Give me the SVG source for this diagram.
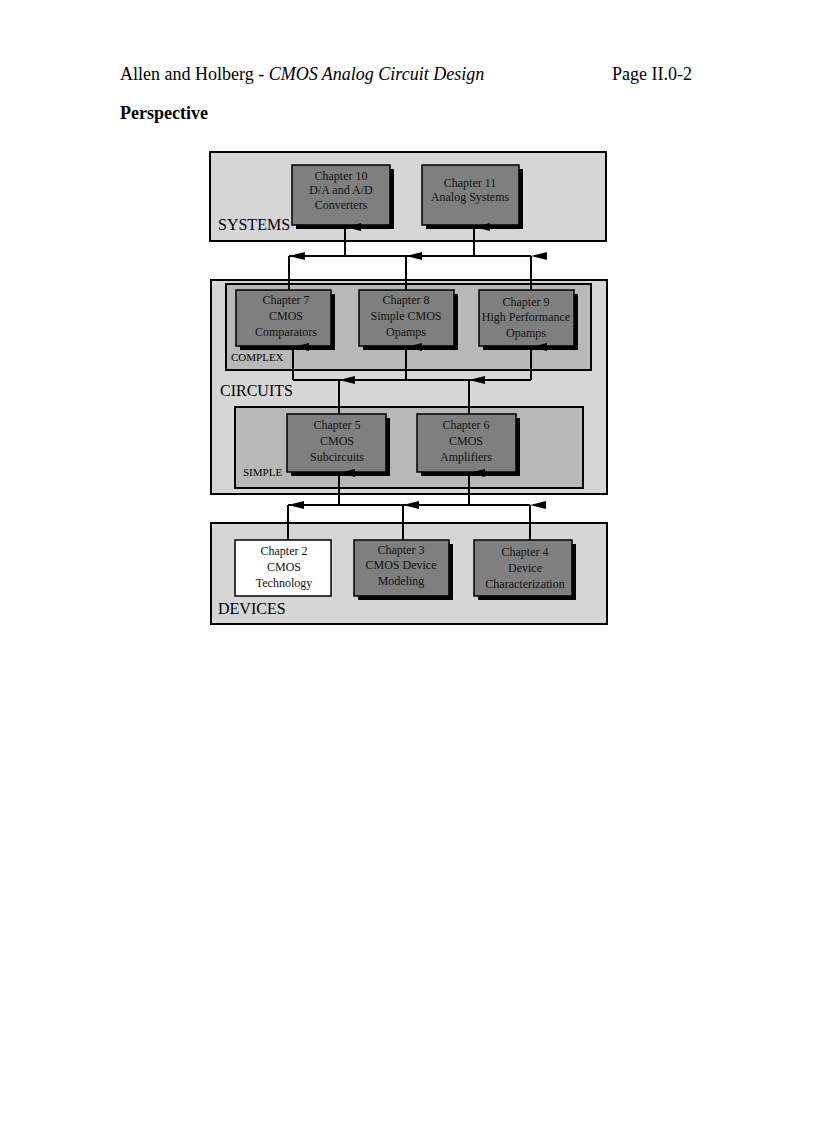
<svg xmlns="http://www.w3.org/2000/svg" width="816" height="1123" viewBox="0 0 816 1123">
<defs>
<marker id="ah" viewBox="0 0 8 16" refX="4" refY="0" markerWidth="8" markerHeight="16" markerUnits="userSpaceOnUse" orient="auto-start-reverse"><path d="M0,16 L4,0 L8,16 Z" fill="#000"/></marker>
</defs>
<style>
.hd{font-family:"Liberation Serif",serif;font-size:18px;fill:#000}
.outer{fill:#d6d6d6;stroke:#000;stroke-width:2}
.inner{fill:#b8b8b8;stroke:#000;stroke-width:2}
.ch{fill:#7f7f7f;stroke:#000;stroke-width:1.5}
.sh{fill:#000}
.t{font-family:"Liberation Serif",serif;font-size:12px;fill:#111;text-anchor:middle}
.lb{font-family:"Liberation Serif",serif;font-size:16px;fill:#000}
.sl{font-family:"Liberation Serif",serif;font-size:11px;fill:#000}
.c{fill:none;stroke:#000;stroke-width:2}
</style>
<text class="hd" x="120" y="80">Allen and Holberg - <tspan font-style="italic">CMOS Analog Circuit Design</tspan></text>
<text class="hd" x="612" y="80">Page II.0-2</text>
<text class="hd" x="120" y="119" font-weight="bold" font-size="19">Perspective</text>

<g id="systems"><rect class="outer" x="210" y="152" width="396" height="89"/><text class="lb" x="218" y="230">SYSTEMS</text></g>
<g id="circuits"><rect class="outer" x="211" y="280" width="396" height="214"/><text class="lb" x="220" y="396">CIRCUITS</text></g>
<g id="complex"><rect class="inner" x="226" y="284" width="365" height="86"/><text class="sl" x="231" y="361">COMPLEX</text></g>
<g id="simple"><rect class="inner" x="235" y="407" width="348" height="81"/><text class="sl" x="243" y="476">SIMPLE</text></g>
<g id="devices"><rect class="outer" x="211" y="523" width="396" height="101"/><text class="lb" x="218" y="614">DEVICES</text></g>

<g id="ch10"><rect class="sh" x="296" y="169" width="98" height="60"/><rect class="ch" x="292" y="165" width="98" height="60"/><text class="t" x="341" y="180">Chapter 10</text><text class="t" x="341" y="194">D/A and A/D</text><text class="t" x="341" y="209">Converters</text></g>
<g id="ch11"><rect class="sh" x="426" y="169" width="97" height="60"/><rect class="ch" x="422" y="165" width="97" height="60"/><text class="t" x="470" y="187">Chapter 11</text><text class="t" x="470" y="201">Analog Systems</text></g>

<g id="ch7"><rect class="sh" x="240" y="294" width="95" height="56"/><rect class="ch" x="236" y="290" width="95" height="56"/><text class="t" x="286" y="304">Chapter 7</text><text class="t" x="286" y="320">CMOS</text><text class="t" x="286" y="336">Comparators</text></g>
<g id="ch8"><rect class="sh" x="363" y="294" width="95" height="56"/><rect class="ch" x="359" y="290" width="95" height="56"/><text class="t" x="406" y="304">Chapter 8</text><text class="t" x="406" y="320">Simple CMOS</text><text class="t" x="406" y="336">Opamps</text></g>
<g id="ch9"><rect class="sh" x="483" y="294" width="95" height="56"/><rect class="ch" x="479" y="290" width="95" height="56"/><text class="t" x="526" y="306">Chapter 9</text><text class="t" x="526" y="321">High Performance</text><text class="t" x="526" y="337">Opamps</text></g>

<g id="ch5"><rect class="sh" x="291" y="418" width="99" height="58"/><rect class="ch" x="287" y="414" width="99" height="58"/><text class="t" x="337" y="429">Chapter 5</text><text class="t" x="337" y="445">CMOS</text><text class="t" x="337" y="461">Subcircuits</text></g>
<g id="ch6"><rect class="sh" x="421" y="418" width="99" height="58"/><rect class="ch" x="417" y="414" width="99" height="58"/><text class="t" x="466" y="429">Chapter 6</text><text class="t" x="466" y="445">CMOS</text><text class="t" x="466" y="461">Amplifiers</text></g>

<g id="ch2"><rect x="235" y="540" width="96" height="56" fill="#fff" stroke="#000" stroke-width="1.5"/><text class="t" x="284" y="555">Chapter 2</text><text class="t" x="284" y="571">CMOS</text><text class="t" x="284" y="587">Technology</text></g>
<g id="ch3"><rect class="sh" x="358" y="544" width="95" height="56"/><rect class="ch" x="354" y="540" width="95" height="56"/><text class="t" x="401" y="554">Chapter 3</text><text class="t" x="401" y="569">CMOS Device</text><text class="t" x="401" y="585">Modeling</text></g>
<g id="ch4"><rect class="sh" x="478" y="544" width="98" height="56"/><rect class="ch" x="474" y="540" width="98" height="56"/><text class="t" x="525" y="556">Chapter 4</text><text class="t" x="525" y="572">Device</text><text class="t" x="525" y="588">Characterization</text></g>

<g id="connectors">
<path class="c" d="M289,256 H531"/>
<path class="c" d="M345,256 V227" marker-end="url(#ah)"/>
<path class="c" d="M474,256 V227" marker-end="url(#ah)"/>
<path class="c" d="M289,290 V256" marker-end="url(#ah)"/>
<path class="c" d="M406,290 V256" marker-end="url(#ah)"/>
<path class="c" d="M531,290 V256" marker-end="url(#ah)"/>
<path class="c" d="M293,380 H531"/>
<path class="c" d="M293,380 V347" marker-end="url(#ah)"/>
<path class="c" d="M406,380 V347" marker-end="url(#ah)"/>
<path class="c" d="M531,380 V347" marker-end="url(#ah)"/>
<path class="c" d="M339,414 V380" marker-end="url(#ah)"/>
<path class="c" d="M469,414 V380" marker-end="url(#ah)"/>
<path class="c" d="M288,505 H530"/>
<path class="c" d="M339,505 V473" marker-end="url(#ah)"/>
<path class="c" d="M469,505 V473" marker-end="url(#ah)"/>
<path class="c" d="M288,540 V505" marker-end="url(#ah)"/>
<path class="c" d="M403,540 V505" marker-end="url(#ah)"/>
<path class="c" d="M530,540 V505" marker-end="url(#ah)"/>
</g>
</svg>
